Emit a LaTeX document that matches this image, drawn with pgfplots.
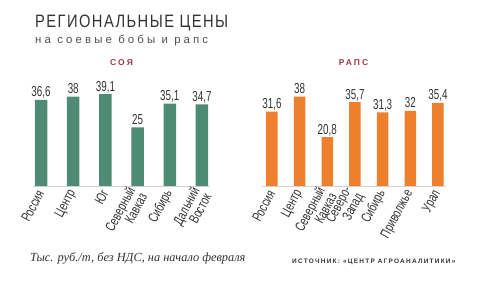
\documentclass[border=0pt]{standalone}
\usepackage{pgfplots}
\pgfplotsset{compat=1.18}
\usepackage{fontspec}
\setmainfont{Liberation Sans}
\newfontfamily\narrow[FakeStretch=0.68]{Liberation Sans}
\newfontfamily\ticknarrow[FakeStretch=0.72]{Liberation Sans}
\newfontfamily\titlefont[FakeStretch=0.82,LetterSpace=8]{Liberation Sans}
\newfontfamily\subfont[LetterSpace=27]{Liberation Sans}
\newfontfamily\headfont[LetterSpace=25]{Liberation Sans}
\newfontfamily\srcfont[LetterSpace=19]{Liberation Sans}
\newfontfamily\notefont{Liberation Serif}
\definecolor{soy}{HTML}{4E8B74}
\definecolor{rape}{HTML}{EE7F2D}
\definecolor{head}{HTML}{9B3A45}
\definecolor{txt}{HTML}{333333}
\pgfplotsset{
  regbars/.style={
    scale only axis,
    ymin=0, ymax=45,
    hide y axis,
    axis x line*=bottom,
    x axis line style={draw=black!18, line width=0.8bp, -},
    xtick=data,
    xtick style={draw=none},
    ybar,
    nodes near coords={\pgfmathprintnumber[use comma,fixed,precision=1,/pgf/number format/assume math mode=true]{\pgfplotspointmeta}},
    every node near coord/.append style={font=\narrow\fontsize{14.5}{14.5}\selectfont, color=txt, anchor=base, inner sep=0pt, yshift=3bp},
    xticklabel style={font=\ticknarrow\fontsize{14}{10}\selectfont, color=txt, rotate=62, anchor=east, align=right, inner sep=1bp},
    clip=false,
  }
}
\begin{document}
\begin{tikzpicture}
\useasboundingbox (0,0) rectangle (485bp,283bp);
% title
\node[anchor=base west, inner sep=0pt, text=txt] at (35bp,255bp) {\titlefont\fontsize{18}{18}\selectfont РЕГИОНАЛЬНЫЕ ЦЕНЫ};
\node[anchor=base west, inner sep=0pt, text=txt!85] at (35bp,239bp) {\subfont\fontsize{11.5}{11.5}\selectfont на соевые бобы и рапс};
\node[anchor=center, inner sep=0pt, text=head] at (121.5bp,220bp) {\headfont\bfseries\fontsize{8.5}{8.5}\selectfont СОЯ};
\node[anchor=center, inner sep=0pt, text=head] at (353.5bp,220bp) {\headfont\bfseries\fontsize{8.5}{8.5}\selectfont РАПС};
% soy
\begin{axis}[regbars, at={(33bp,97bp)}, anchor=south west,
  width=177bp, height=105.75bp,
  xmin=-0.25, xmax=5.25, bar width=12.5bp,
  xticklabels={Россия,Центр,Юг,Северный\\Кавказ,Сибирь,Дальний\\Восток}]
\addplot[fill=soy, draw=none] coordinates {(0,36.6) (1,38) (2,39.1) (3,25) (4,35.1) (5,34.7)};
\end{axis}
% rapeseed
\begin{axis}[regbars, at={(262bp,97bp)}, anchor=south west,
  width=184bp, height=105.75bp,
  xmin=-0.36, xmax=6.29, bar width=11.5bp,
  xticklabels={Россия,Центр,Северный\\Кавказ,Северо-\\Запад,Сибирь,Приволжье,Урал}]
\addplot[fill=rape, draw=none] coordinates {(0,31.6) (1,38) (2,20.8) (3,35.7) (4,31.3) (5,32) (6,35.4)};
\end{axis}
% footer
\node[anchor=base west, inner sep=0pt, text=txt] at (30bp,22bp) {\notefont\itshape\fontsize{12.4}{12.4}\selectfont Тыс. руб./т, без НДС, на начало февраля};
\node[anchor=base west, inner sep=0pt, text=txt] at (292bp,20bp) {\srcfont\bfseries\fontsize{6.5}{6.5}\selectfont ИСТОЧНИК: «ЦЕНТР АГРОАНАЛИТИКИ»};
\end{tikzpicture}
\end{document}
